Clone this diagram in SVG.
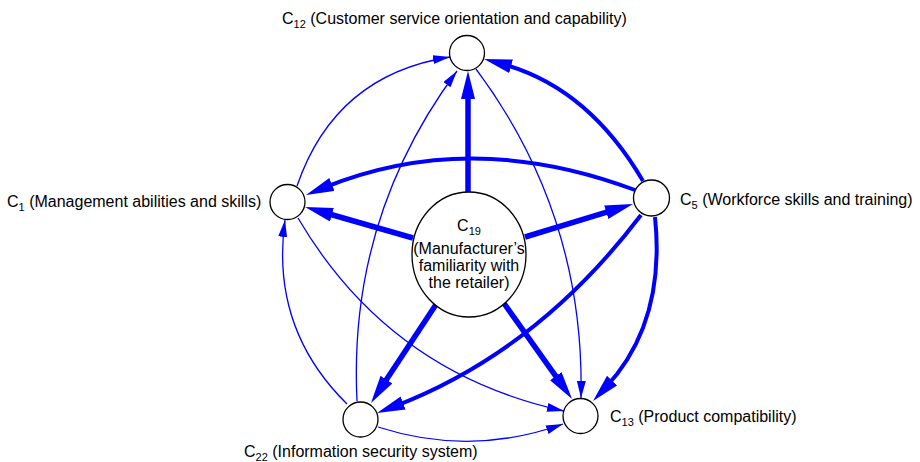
<svg xmlns="http://www.w3.org/2000/svg" width="920" height="462" viewBox="0 0 920 462">
<style>
.node{fill:#fff;stroke:#000;stroke-width:1.3}
.lbl{font-family:"Liberation Sans",Arial,sans-serif;font-size:16px;fill:#000}
.sub{font-size:11px}
.e{fill:none;stroke:#0000ff}
.thin{stroke-width:1.3}
.med{stroke-width:4}
.thick{stroke-width:5.5}
</style>
<defs>
<marker id="ahs" markerUnits="userSpaceOnUse" markerWidth="18" markerHeight="10" refX="17" refY="4.5" orient="auto"><path d="M0,0 L17,4.5 L0,9 z" fill="#0000ff"/></marker>
<marker id="ahl" markerUnits="userSpaceOnUse" markerWidth="29" markerHeight="15" refX="10" refY="7" orient="auto"><path d="M0,0 L28,7 L0,14 z" fill="#0000ff"/></marker>
</defs>
<g id="connectors">
<path class="e thick" marker-end="url(#ahl)" d="M468,192 L468,89"/>
<path class="e thick" marker-end="url(#ahl)" d="M413,238 L322.3,212"/>
<path class="e thick" marker-end="url(#ahl)" d="M525,237 L615.8,209.3"/>
<path class="e thick" marker-end="url(#ahl)" d="M437,303 L380.9,388"/>
<path class="e thick" marker-end="url(#ahl)" d="M503,302 L561.6,384.3"/>
<path class="e med" marker-end="url(#ahl)" d="M635,190 Q470,128 322.7,188.2"/>
<path class="e med" marker-end="url(#ahl)" d="M643,181 Q588,87 501.4,63.7"/>
<path class="e med" stroke-width="3.5" marker-end="url(#ahl)" d="M641,215 Q537,352 393.8,406.6"/>
<path class="e med" marker-end="url(#ahl)" d="M655,217 Q666,323 605.3,387.9"/>
<path class="e thin" marker-end="url(#ahs)" d="M297,186 Q335,75 450,57"/>
<path class="e thin" marker-end="url(#ahs)" d="M357,401 Q348,218 457,71"/>
<path class="e thin" marker-end="url(#ahs)" d="M476,69 Q585,215 581,398"/>
<path class="e thin" marker-end="url(#ahs)" d="M298,218 Q389,373 564,411"/>
<path class="e thin" marker-end="url(#ahs)" d="M347,404 Q270,328 285,220"/>
<path class="e thin" marker-end="url(#ahs)" d="M378,427 Q471,457 563,424"/>
</g>
<g id="C19">
<ellipse class="node" cx="469" cy="254.5" rx="57" ry="62.5"/>
<text class="lbl" text-anchor="middle"><tspan x="469" y="231">C<tspan class="sub" dy="4">19</tspan></tspan><tspan x="469" y="254">(Manufacturer’s</tspan><tspan x="469" y="271">familiarity with</tspan><tspan x="469" y="288">the retailer)</tspan></text>
</g>
<g id="C12">
<circle class="node" cx="467" cy="53" r="17.5"/>
<text class="lbl" x="282" y="24">C<tspan class="sub" dy="4">12</tspan><tspan dy="-4"> (Customer service orientation and capability)</tspan></text>
</g>
<g id="C1">
<circle class="node" cx="287.5" cy="202" r="17.5"/>
<text class="lbl" x="7" y="207">C<tspan class="sub" dy="4">1</tspan><tspan dy="-4"> (Management abilities and skills)</tspan></text>
</g>
<g id="C5">
<circle class="node" cx="651.5" cy="198" r="18"/>
<text class="lbl" x="680" y="205">C<tspan class="sub" dy="4">5</tspan><tspan dy="-4"> (Workforce skills and training)</tspan></text>
</g>
<g id="C22">
<circle class="node" cx="360.5" cy="419.5" r="17.5"/>
<text class="lbl" x="244" y="457">C<tspan class="sub" dy="4">22</tspan><tspan dy="-4"> (Information security system)</tspan></text>
</g>
<g id="C13">
<circle class="node" cx="580.5" cy="416" r="17.5"/>
<text class="lbl" x="610" y="422">C<tspan class="sub" dy="4">13</tspan><tspan dy="-4"> (Product compatibility)</tspan></text>
</g>
</svg>
